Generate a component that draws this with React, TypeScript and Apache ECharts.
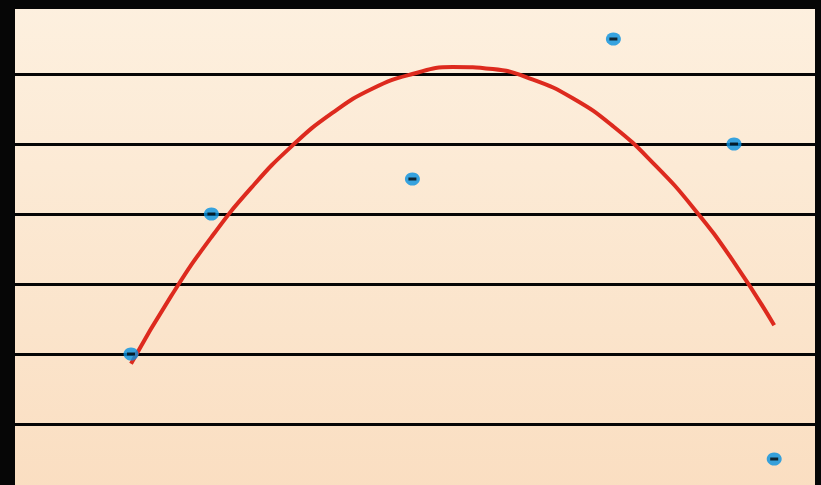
import React, { useEffect, useRef } from "react";
import * as echarts from "echarts";

// Observed samples
const sampleX = [3, 5, 10, 15, 18, 19];
const sampleY = [2, 4, 4.5, 6.5, 5, 0.5];

// Quadratic trend curve, values read at whole x steps
const trendX = [3, 4, 5, 6, 7, 8, 9, 10, 11, 12, 13, 14, 15, 16, 17, 18, 19];
const trendY = [1.86, 2.83, 3.67, 4.38, 4.97, 5.44, 5.79, 6.0, 6.1, 6.07, 5.92, 5.65, 5.25, 4.72, 4.08, 3.31, 2.41];

const yTicks = [0, 1, 2, 3, 4, 5, 6, 7];

export default function App() {
  const ref = useRef<HTMLDivElement>(null);

  useEffect(() => {
    if (!ref.current) return;
    const chart = echarts.init(ref.current, undefined, { renderer: "svg" });
    const points = sampleX.map((x, i) => [x, sampleY[i]]);
    const trend = trendX.map((x, i) => [x, trendY[i]]);

    chart.setOption({
      animation: false,
      backgroundColor: "#060606",
      grid: {
        left: 15,
        right: 6,
        top: 4,
        bottom: 0,
        show: true,
        borderWidth: 0,
        backgroundColor: new echarts.graphic.LinearGradient(0, 0, 0, 1, [
          { offset: 0, color: "#FDF0DF" },
          { offset: 1, color: "#FADEC1" },
        ]),
      },
      xAxis: {
        type: "value",
        min: 0.114,
        max: 20.015,
        axisLine: { show: false },
        axisTick: { show: false },
        axisLabel: { show: false },
        splitLine: { show: false },
      },
      yAxis: {
        type: "value",
        min: yTicks[0],
        max: yTicks[yTicks.length - 1],
        interval: 1,
        axisLine: { show: false },
        axisTick: { show: false },
        axisLabel: { show: false },
        splitLine: { show: true, lineStyle: { color: "#050505", width: 3 } },
      },
      graphic: [
        {
          type: "rect",
          z: 100,
          shape: { x: 0, y: 0, width: 821, height: 9 },
          style: { fill: "#060606" },
        },
      ],
      series: [
        {
          type: "line",
          data: trend,
          smooth: true,
          showSymbol: false,
          lineStyle: { color: "#DD2A1E", width: 4 },
          z: 2,
        },
        {
          type: "scatter",
          data: points,
          symbol: "circle",
          symbolSize: [15, 13],
          itemStyle: { color: "#0590E0" },
          z: 3,
        },
        {
          type: "scatter",
          data: points,
          symbol: "rect",
          symbolSize: [8, 3],
          itemStyle: { color: "#050505" },
          z: 4,
        },
      ],
    });
    return () => chart.dispose();
  }, []);

  // The chart runs a few pixels past the bottom of the window; the lowest grid line sits just out of view.
  return (
    <div
      ref={ref}
      style={{ position: "fixed", left: 0, top: 0, width: 821, height: 494 }}
    />
  );
}
